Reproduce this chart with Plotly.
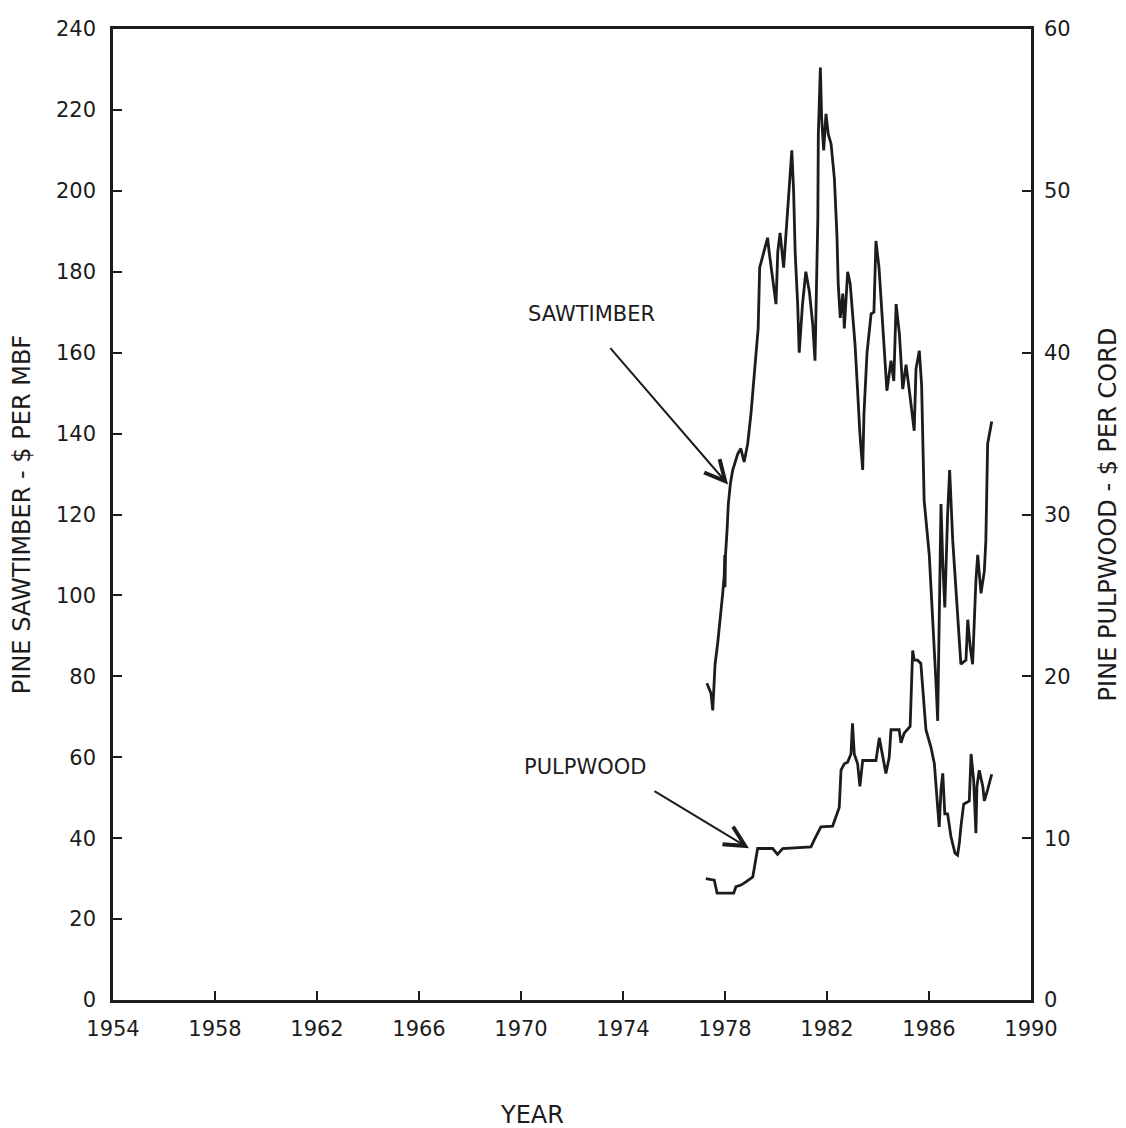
import plotly.graph_objects as go

saw_year = [1977.29, 1977.45, 1977.52, 1977.61, 1977.71, 1977.84, 1977.91, 1977.97, 1977.99, 1978.00,
            1978.02, 1978.08, 1978.13, 1978.21, 1978.30, 1978.50, 1978.62, 1978.75, 1978.89, 1979.02,
            1979.09, 1979.22, 1979.30, 1979.36, 1979.67, 1979.73, 1979.87, 1980.00, 1980.07, 1980.16,
            1980.30, 1980.46, 1980.52, 1980.62, 1980.69, 1980.75, 1980.85, 1980.91, 1981.04, 1981.17,
            1981.31, 1981.44, 1981.53, 1981.64, 1981.66, 1981.74, 1981.79, 1981.87, 1981.96, 1982.05,
            1982.16, 1982.29, 1982.39, 1982.44, 1982.52, 1982.62, 1982.68, 1982.81, 1982.91, 1983.01,
            1983.10, 1983.20, 1983.29, 1983.40, 1983.45, 1983.57, 1983.73, 1983.84, 1983.92, 1984.04,
            1984.18, 1984.25, 1984.35, 1984.51, 1984.62, 1984.71, 1984.84, 1984.97, 1985.10, 1985.23,
            1985.36, 1985.42, 1985.49, 1985.62, 1985.71, 1985.78, 1985.81, 1986.01, 1986.14, 1986.27,
            1986.34, 1986.40, 1986.47, 1986.54, 1986.62, 1986.73, 1986.81, 1986.93, 1987.12, 1987.25,
            1987.45, 1987.52, 1987.62, 1987.71, 1987.84, 1987.91, 1988.04, 1988.17, 1988.23, 1988.27,
            1988.30, 1988.46]
saw_price = [78.3, 75.8, 71.6, 83, 88, 95.5, 100.5, 105, 110, 102,
             110, 116, 122.6, 127.6, 130.9, 135, 136.3, 133, 137.5, 145,
             150, 160, 166, 181, 188.4, 185, 178.5, 172, 185, 189.6,
             181, 195, 202.5, 210, 200, 185, 172, 160, 172, 180,
             175, 167, 158, 193, 214, 230.5, 218, 210, 219, 214,
             211.6, 203, 189, 177, 168.6, 174.6, 166, 180, 177, 168.6,
             162, 150.6, 140, 131, 145, 160, 169.6, 170, 187.6, 181,
             168, 160.5, 150.6, 158, 153, 172, 164.6, 151, 157, 150.6,
             143, 140.7, 156, 160.5, 152, 134, 123.5, 110, 95.5, 79,
             69, 94, 122.6, 108, 97, 120, 131, 113.6, 95.5, 83,
             84, 94, 87, 83, 103.7, 110, 100.5, 106, 113.6, 128,
             137.5, 143]

pulp_year = [1977.25, 1977.58, 1977.69, 1978.34, 1978.43, 1978.63, 1978.82, 1979.09, 1979.18, 1979.28,
             1979.87, 1980.06, 1980.26, 1981.37, 1981.50, 1981.76, 1982.22, 1982.35, 1982.48, 1982.55,
             1982.68, 1982.81, 1982.94, 1983.00, 1983.07, 1983.20, 1983.29, 1983.40, 1983.92, 1984.05,
             1984.18, 1984.31, 1984.44, 1984.51, 1984.83, 1984.90, 1985.03, 1985.26, 1985.32, 1985.36,
             1985.42, 1985.55, 1985.68, 1985.75, 1985.88, 1986.08, 1986.21, 1986.34, 1986.40, 1986.47,
             1986.54, 1986.62, 1986.73, 1986.86, 1987.02, 1987.12, 1987.19, 1987.25, 1987.36, 1987.58,
             1987.65, 1987.75, 1987.84, 1987.88, 1987.97, 1988.11, 1988.17, 1988.30, 1988.46]
pulp_price = [7.5, 7.4, 6.6, 6.6, 7.0, 7.1, 7.3, 7.6, 8.45, 9.36,
              9.36, 9.0, 9.36, 9.46, 9.9, 10.7, 10.74, 11.3, 11.9, 14.2,
              14.6, 14.7, 15.2, 17.1, 15.2, 14.6, 13.2, 14.8, 14.8, 16.2,
              15.0, 14.0, 15.0, 16.7, 16.7, 15.9, 16.5, 16.9, 19.75, 21.6,
              21.0, 21.0, 20.8, 19.3, 16.7, 15.6, 14.6, 11.9, 10.7, 13.0,
              14.0, 11.5, 11.5, 10.1, 9.07, 8.95, 9.7, 10.7, 12.1, 12.3,
              15.2, 13.6, 10.3, 13.2, 14.2, 13.2, 12.3, 13.0, 13.95]

x_ticks = list(range(1954, 1991, 4))
left_ticks = list(range(0, 241, 20))
right_ticks = list(range(0, 61, 10))

ink = "#1c1c1c"
FAM = "DejaVu Sans"
tick_font = dict(family=FAM, size=21, color=ink)
title_font = dict(family=FAM, size=24, color=ink)
label_font = dict(family=FAM, size=21, color=ink)

fig = go.Figure()
fig.add_trace(go.Scatter(x=saw_year, y=saw_price, mode="lines",
                         line=dict(color=ink, width=2.8), yaxis="y", showlegend=False))
fig.add_trace(go.Scatter(x=pulp_year, y=pulp_price, mode="lines",
                         line=dict(color=ink, width=2.8), yaxis="y2", showlegend=False))

fig.update_layout(
    width=1126, height=1128,
    margin=dict(l=105, r=103, t=21, b=136, autoexpand=False),
    paper_bgcolor="white", plot_bgcolor="white",
    font=tick_font,
    xaxis=dict(range=[1954, 1990], tickvals=x_ticks, ticktext=[str(t) for t in x_ticks],
               ticks="inside", ticklen=9, tickwidth=2, tickcolor=ink, automargin=False,
               showline=True, linecolor=ink, linewidth=2.5, mirror=True,
               showgrid=False, zeroline=False, tickfont=tick_font, ticklabelstandoff=8),
    yaxis=dict(range=[0, 240], tickvals=left_ticks, automargin=False,
               ticks="inside", ticklen=9, tickwidth=2, tickcolor=ink,
               showline=True, linecolor=ink, linewidth=2.5,
               showgrid=False, zeroline=False, tickfont=tick_font, ticklabelstandoff=10,
               title=dict(text="PINE SAWTIMBER - $ PER MBF", font=title_font, standoff=26)),
    yaxis2=dict(range=[0, 60], tickvals=right_ticks, overlaying="y", side="right",
                ticks="inside", ticklen=9, tickwidth=2, tickcolor=ink, automargin=False,
                showline=True, linecolor=ink, linewidth=2.5,
                showgrid=False, zeroline=False, tickfont=tick_font, ticklabelstandoff=6,
                title=dict(text="PINE PULPWOOD - $ PER CORD", font=title_font, standoff=30)),
)

fig.add_annotation(text="SAWTIMBER", x=1972.75, y=169.6, xref="x", yref="y",
                   showarrow=False, font=label_font)
fig.add_annotation(text="", x=1978.12, y=127.4, xref="x", yref="y",
                   ax=-119, ay=-138, showarrow=True, arrowhead=5, arrowsize=2,
                   arrowwidth=2, arrowcolor=ink)
fig.add_annotation(text="PULPWOOD", x=1972.5, y=57.5, xref="x", yref="y",
                   showarrow=False, font=label_font)
fig.add_annotation(text="", x=1978.94, y=37.5, xref="x", yref="y",
                   ax=-96, ay=-58, showarrow=True, arrowhead=5, arrowsize=2,
                   arrowwidth=2, arrowcolor=ink)
fig.add_annotation(text="YEAR", x=1970.43, y=-0.118, xref="x", yref="paper",
                   showarrow=False, yanchor="middle", font=title_font)

fig.write_html("out.html")
